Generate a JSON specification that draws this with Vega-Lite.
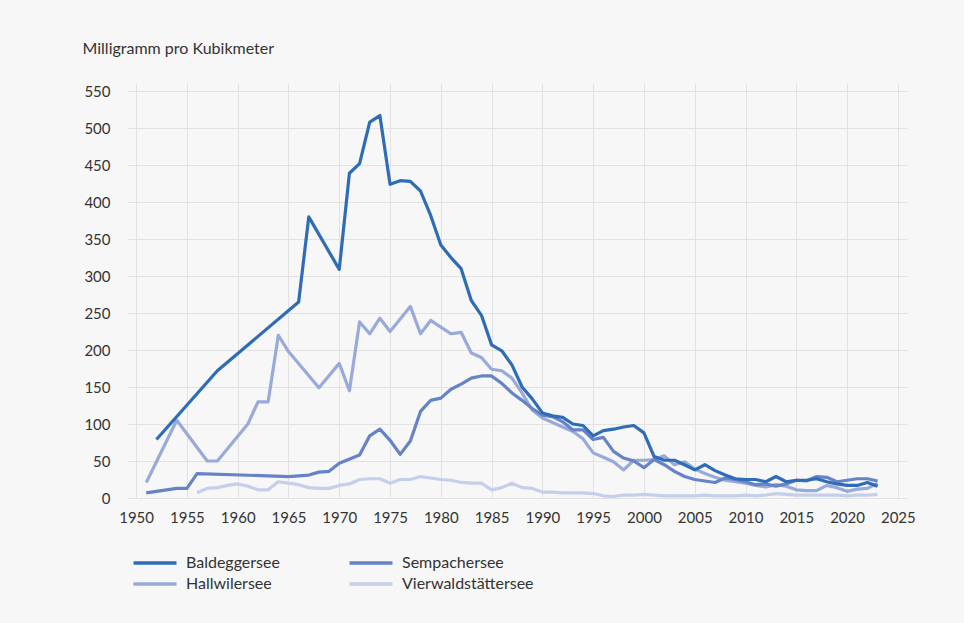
{
  "$schema": "https://vega.github.io/schema/vega-lite/v6.json",
  "width": 779,
  "height": 415,
  "autosize": {"type": "none"},
  "padding": {"left": 128, "top": 83, "right": 57, "bottom": 125},
  "background": "#f7f7f7",
  "config": {
    "view": {"stroke": null},
    "font": "Lato",
    "axis": {"gridColor": "#e2e2e2", "gridWidth": 1, "labelColor": "#333333", "labelFontSize": 15, "domain": false, "ticks": false}
  },
  "data": {"values": [
    {"lake": "Vierwaldstättersee", "year": 1956, "v": 7},
    {"lake": "Vierwaldstättersee", "year": 1957, "v": 13},
    {"lake": "Vierwaldstättersee", "year": 1958, "v": 14},
    {"lake": "Vierwaldstättersee", "year": 1959, "v": 17},
    {"lake": "Vierwaldstättersee", "year": 1960, "v": 19},
    {"lake": "Vierwaldstättersee", "year": 1961, "v": 16},
    {"lake": "Vierwaldstättersee", "year": 1962, "v": 11},
    {"lake": "Vierwaldstättersee", "year": 1963, "v": 11},
    {"lake": "Vierwaldstättersee", "year": 1964, "v": 22},
    {"lake": "Vierwaldstättersee", "year": 1965, "v": 20},
    {"lake": "Vierwaldstättersee", "year": 1966, "v": 18},
    {"lake": "Vierwaldstättersee", "year": 1967, "v": 14},
    {"lake": "Vierwaldstättersee", "year": 1968, "v": 13},
    {"lake": "Vierwaldstättersee", "year": 1969, "v": 13},
    {"lake": "Vierwaldstättersee", "year": 1970, "v": 17},
    {"lake": "Vierwaldstättersee", "year": 1971, "v": 19},
    {"lake": "Vierwaldstättersee", "year": 1972, "v": 25},
    {"lake": "Vierwaldstättersee", "year": 1973, "v": 26},
    {"lake": "Vierwaldstättersee", "year": 1974, "v": 26},
    {"lake": "Vierwaldstättersee", "year": 1975, "v": 20},
    {"lake": "Vierwaldstättersee", "year": 1976, "v": 25},
    {"lake": "Vierwaldstättersee", "year": 1977, "v": 25},
    {"lake": "Vierwaldstättersee", "year": 1978, "v": 29},
    {"lake": "Vierwaldstättersee", "year": 1979, "v": 27},
    {"lake": "Vierwaldstättersee", "year": 1980, "v": 25},
    {"lake": "Vierwaldstättersee", "year": 1981, "v": 24},
    {"lake": "Vierwaldstättersee", "year": 1982, "v": 21},
    {"lake": "Vierwaldstättersee", "year": 1983, "v": 20},
    {"lake": "Vierwaldstättersee", "year": 1984, "v": 20},
    {"lake": "Vierwaldstättersee", "year": 1985, "v": 11},
    {"lake": "Vierwaldstättersee", "year": 1986, "v": 14},
    {"lake": "Vierwaldstättersee", "year": 1987, "v": 20},
    {"lake": "Vierwaldstättersee", "year": 1988, "v": 14},
    {"lake": "Vierwaldstättersee", "year": 1989, "v": 13},
    {"lake": "Vierwaldstättersee", "year": 1990, "v": 8},
    {"lake": "Vierwaldstättersee", "year": 1991, "v": 8},
    {"lake": "Vierwaldstättersee", "year": 1992, "v": 7},
    {"lake": "Vierwaldstättersee", "year": 1993, "v": 7},
    {"lake": "Vierwaldstättersee", "year": 1994, "v": 7},
    {"lake": "Vierwaldstättersee", "year": 1995, "v": 6},
    {"lake": "Vierwaldstättersee", "year": 1996, "v": 3},
    {"lake": "Vierwaldstättersee", "year": 1997, "v": 2},
    {"lake": "Vierwaldstättersee", "year": 1998, "v": 4},
    {"lake": "Vierwaldstättersee", "year": 1999, "v": 4},
    {"lake": "Vierwaldstättersee", "year": 2000, "v": 5},
    {"lake": "Vierwaldstättersee", "year": 2001, "v": 4},
    {"lake": "Vierwaldstättersee", "year": 2002, "v": 3},
    {"lake": "Vierwaldstättersee", "year": 2003, "v": 3},
    {"lake": "Vierwaldstättersee", "year": 2004, "v": 3},
    {"lake": "Vierwaldstättersee", "year": 2005, "v": 3},
    {"lake": "Vierwaldstättersee", "year": 2006, "v": 4},
    {"lake": "Vierwaldstättersee", "year": 2007, "v": 3},
    {"lake": "Vierwaldstättersee", "year": 2008, "v": 3},
    {"lake": "Vierwaldstättersee", "year": 2009, "v": 3},
    {"lake": "Vierwaldstättersee", "year": 2010, "v": 4},
    {"lake": "Vierwaldstättersee", "year": 2011, "v": 3},
    {"lake": "Vierwaldstättersee", "year": 2012, "v": 4},
    {"lake": "Vierwaldstättersee", "year": 2013, "v": 6},
    {"lake": "Vierwaldstättersee", "year": 2014, "v": 5},
    {"lake": "Vierwaldstättersee", "year": 2015, "v": 4},
    {"lake": "Vierwaldstättersee", "year": 2016, "v": 4},
    {"lake": "Vierwaldstättersee", "year": 2017, "v": 4},
    {"lake": "Vierwaldstättersee", "year": 2018, "v": 4},
    {"lake": "Vierwaldstättersee", "year": 2019, "v": 4},
    {"lake": "Vierwaldstättersee", "year": 2020, "v": 3},
    {"lake": "Vierwaldstättersee", "year": 2021, "v": 4},
    {"lake": "Vierwaldstättersee", "year": 2022, "v": 4},
    {"lake": "Vierwaldstättersee", "year": 2023, "v": 5},
    {"lake": "Hallwilersee", "year": 1951, "v": 21},
    {"lake": "Hallwilersee", "year": 1954, "v": 105},
    {"lake": "Hallwilersee", "year": 1957, "v": 50},
    {"lake": "Hallwilersee", "year": 1958, "v": 50},
    {"lake": "Hallwilersee", "year": 1961, "v": 100},
    {"lake": "Hallwilersee", "year": 1962, "v": 130},
    {"lake": "Hallwilersee", "year": 1963, "v": 130},
    {"lake": "Hallwilersee", "year": 1964, "v": 220},
    {"lake": "Hallwilersee", "year": 1965, "v": 198},
    {"lake": "Hallwilersee", "year": 1968, "v": 149},
    {"lake": "Hallwilersee", "year": 1970, "v": 182},
    {"lake": "Hallwilersee", "year": 1971, "v": 145},
    {"lake": "Hallwilersee", "year": 1972, "v": 238},
    {"lake": "Hallwilersee", "year": 1973, "v": 222},
    {"lake": "Hallwilersee", "year": 1974, "v": 243},
    {"lake": "Hallwilersee", "year": 1975, "v": 225},
    {"lake": "Hallwilersee", "year": 1977, "v": 259},
    {"lake": "Hallwilersee", "year": 1978, "v": 222},
    {"lake": "Hallwilersee", "year": 1979, "v": 240},
    {"lake": "Hallwilersee", "year": 1980, "v": 231},
    {"lake": "Hallwilersee", "year": 1981, "v": 222},
    {"lake": "Hallwilersee", "year": 1982, "v": 224},
    {"lake": "Hallwilersee", "year": 1983, "v": 196},
    {"lake": "Hallwilersee", "year": 1984, "v": 190},
    {"lake": "Hallwilersee", "year": 1985, "v": 174},
    {"lake": "Hallwilersee", "year": 1986, "v": 172},
    {"lake": "Hallwilersee", "year": 1987, "v": 162},
    {"lake": "Hallwilersee", "year": 1988, "v": 142},
    {"lake": "Hallwilersee", "year": 1989, "v": 119},
    {"lake": "Hallwilersee", "year": 1990, "v": 108},
    {"lake": "Hallwilersee", "year": 1991, "v": 102},
    {"lake": "Hallwilersee", "year": 1992, "v": 96},
    {"lake": "Hallwilersee", "year": 1993, "v": 90},
    {"lake": "Hallwilersee", "year": 1994, "v": 80},
    {"lake": "Hallwilersee", "year": 1995, "v": 61},
    {"lake": "Hallwilersee", "year": 1996, "v": 55},
    {"lake": "Hallwilersee", "year": 1997, "v": 49},
    {"lake": "Hallwilersee", "year": 1998, "v": 38},
    {"lake": "Hallwilersee", "year": 1999, "v": 51},
    {"lake": "Hallwilersee", "year": 2000, "v": 51},
    {"lake": "Hallwilersee", "year": 2001, "v": 52},
    {"lake": "Hallwilersee", "year": 2002, "v": 57},
    {"lake": "Hallwilersee", "year": 2003, "v": 45},
    {"lake": "Hallwilersee", "year": 2004, "v": 49},
    {"lake": "Hallwilersee", "year": 2005, "v": 39},
    {"lake": "Hallwilersee", "year": 2006, "v": 33},
    {"lake": "Hallwilersee", "year": 2007, "v": 28},
    {"lake": "Hallwilersee", "year": 2008, "v": 24},
    {"lake": "Hallwilersee", "year": 2009, "v": 22},
    {"lake": "Hallwilersee", "year": 2010, "v": 20},
    {"lake": "Hallwilersee", "year": 2011, "v": 17},
    {"lake": "Hallwilersee", "year": 2012, "v": 15},
    {"lake": "Hallwilersee", "year": 2013, "v": 18},
    {"lake": "Hallwilersee", "year": 2014, "v": 16},
    {"lake": "Hallwilersee", "year": 2015, "v": 11},
    {"lake": "Hallwilersee", "year": 2016, "v": 10},
    {"lake": "Hallwilersee", "year": 2017, "v": 10},
    {"lake": "Hallwilersee", "year": 2018, "v": 17},
    {"lake": "Hallwilersee", "year": 2019, "v": 14},
    {"lake": "Hallwilersee", "year": 2020, "v": 9},
    {"lake": "Hallwilersee", "year": 2021, "v": 12},
    {"lake": "Hallwilersee", "year": 2022, "v": 13},
    {"lake": "Hallwilersee", "year": 2023, "v": 20},
    {"lake": "Sempachersee", "year": 1951, "v": 7},
    {"lake": "Sempachersee", "year": 1954, "v": 13},
    {"lake": "Sempachersee", "year": 1955, "v": 13},
    {"lake": "Sempachersee", "year": 1956, "v": 33},
    {"lake": "Sempachersee", "year": 1965, "v": 29},
    {"lake": "Sempachersee", "year": 1967, "v": 31},
    {"lake": "Sempachersee", "year": 1968, "v": 35},
    {"lake": "Sempachersee", "year": 1969, "v": 36},
    {"lake": "Sempachersee", "year": 1970, "v": 47},
    {"lake": "Sempachersee", "year": 1972, "v": 58},
    {"lake": "Sempachersee", "year": 1973, "v": 84},
    {"lake": "Sempachersee", "year": 1974, "v": 93},
    {"lake": "Sempachersee", "year": 1975, "v": 78},
    {"lake": "Sempachersee", "year": 1976, "v": 59},
    {"lake": "Sempachersee", "year": 1977, "v": 77},
    {"lake": "Sempachersee", "year": 1978, "v": 117},
    {"lake": "Sempachersee", "year": 1979, "v": 132},
    {"lake": "Sempachersee", "year": 1980, "v": 135},
    {"lake": "Sempachersee", "year": 1981, "v": 147},
    {"lake": "Sempachersee", "year": 1982, "v": 154},
    {"lake": "Sempachersee", "year": 1983, "v": 162},
    {"lake": "Sempachersee", "year": 1984, "v": 165},
    {"lake": "Sempachersee", "year": 1985, "v": 165},
    {"lake": "Sempachersee", "year": 1986, "v": 155},
    {"lake": "Sempachersee", "year": 1987, "v": 142},
    {"lake": "Sempachersee", "year": 1988, "v": 132},
    {"lake": "Sempachersee", "year": 1989, "v": 121},
    {"lake": "Sempachersee", "year": 1990, "v": 112},
    {"lake": "Sempachersee", "year": 1991, "v": 110},
    {"lake": "Sempachersee", "year": 1992, "v": 103},
    {"lake": "Sempachersee", "year": 1993, "v": 92},
    {"lake": "Sempachersee", "year": 1994, "v": 92},
    {"lake": "Sempachersee", "year": 1995, "v": 79},
    {"lake": "Sempachersee", "year": 1996, "v": 82},
    {"lake": "Sempachersee", "year": 1997, "v": 63},
    {"lake": "Sempachersee", "year": 1998, "v": 54},
    {"lake": "Sempachersee", "year": 1999, "v": 50},
    {"lake": "Sempachersee", "year": 2000, "v": 41},
    {"lake": "Sempachersee", "year": 2001, "v": 52},
    {"lake": "Sempachersee", "year": 2002, "v": 45},
    {"lake": "Sempachersee", "year": 2003, "v": 36},
    {"lake": "Sempachersee", "year": 2004, "v": 29},
    {"lake": "Sempachersee", "year": 2005, "v": 25},
    {"lake": "Sempachersee", "year": 2006, "v": 23},
    {"lake": "Sempachersee", "year": 2007, "v": 21},
    {"lake": "Sempachersee", "year": 2008, "v": 27},
    {"lake": "Sempachersee", "year": 2009, "v": 25},
    {"lake": "Sempachersee", "year": 2010, "v": 22},
    {"lake": "Sempachersee", "year": 2011, "v": 18},
    {"lake": "Sempachersee", "year": 2012, "v": 19},
    {"lake": "Sempachersee", "year": 2013, "v": 16},
    {"lake": "Sempachersee", "year": 2014, "v": 19},
    {"lake": "Sempachersee", "year": 2015, "v": 24},
    {"lake": "Sempachersee", "year": 2016, "v": 23},
    {"lake": "Sempachersee", "year": 2017, "v": 29},
    {"lake": "Sempachersee", "year": 2018, "v": 28},
    {"lake": "Sempachersee", "year": 2019, "v": 22},
    {"lake": "Sempachersee", "year": 2020, "v": 24},
    {"lake": "Sempachersee", "year": 2021, "v": 26},
    {"lake": "Sempachersee", "year": 2022, "v": 26},
    {"lake": "Sempachersee", "year": 2023, "v": 23},
    {"lake": "Baldeggersee", "year": 1952, "v": 79},
    {"lake": "Baldeggersee", "year": 1958, "v": 172},
    {"lake": "Baldeggersee", "year": 1966, "v": 265},
    {"lake": "Baldeggersee", "year": 1967, "v": 380},
    {"lake": "Baldeggersee", "year": 1970, "v": 309},
    {"lake": "Baldeggersee", "year": 1971, "v": 439},
    {"lake": "Baldeggersee", "year": 1972, "v": 452},
    {"lake": "Baldeggersee", "year": 1973, "v": 508},
    {"lake": "Baldeggersee", "year": 1974, "v": 517},
    {"lake": "Baldeggersee", "year": 1975, "v": 424},
    {"lake": "Baldeggersee", "year": 1976, "v": 429},
    {"lake": "Baldeggersee", "year": 1977, "v": 428},
    {"lake": "Baldeggersee", "year": 1978, "v": 415},
    {"lake": "Baldeggersee", "year": 1979, "v": 382},
    {"lake": "Baldeggersee", "year": 1980, "v": 342},
    {"lake": "Baldeggersee", "year": 1981, "v": 325},
    {"lake": "Baldeggersee", "year": 1982, "v": 310},
    {"lake": "Baldeggersee", "year": 1983, "v": 267},
    {"lake": "Baldeggersee", "year": 1984, "v": 247},
    {"lake": "Baldeggersee", "year": 1985, "v": 207},
    {"lake": "Baldeggersee", "year": 1986, "v": 199},
    {"lake": "Baldeggersee", "year": 1987, "v": 180},
    {"lake": "Baldeggersee", "year": 1988, "v": 150},
    {"lake": "Baldeggersee", "year": 1989, "v": 134},
    {"lake": "Baldeggersee", "year": 1990, "v": 115},
    {"lake": "Baldeggersee", "year": 1991, "v": 111},
    {"lake": "Baldeggersee", "year": 1992, "v": 109},
    {"lake": "Baldeggersee", "year": 1993, "v": 100},
    {"lake": "Baldeggersee", "year": 1994, "v": 98},
    {"lake": "Baldeggersee", "year": 1995, "v": 84},
    {"lake": "Baldeggersee", "year": 1996, "v": 91},
    {"lake": "Baldeggersee", "year": 1997, "v": 93},
    {"lake": "Baldeggersee", "year": 1998, "v": 96},
    {"lake": "Baldeggersee", "year": 1999, "v": 98},
    {"lake": "Baldeggersee", "year": 2000, "v": 88},
    {"lake": "Baldeggersee", "year": 2001, "v": 56},
    {"lake": "Baldeggersee", "year": 2002, "v": 51},
    {"lake": "Baldeggersee", "year": 2003, "v": 51},
    {"lake": "Baldeggersee", "year": 2004, "v": 45},
    {"lake": "Baldeggersee", "year": 2005, "v": 38},
    {"lake": "Baldeggersee", "year": 2006, "v": 45},
    {"lake": "Baldeggersee", "year": 2007, "v": 37},
    {"lake": "Baldeggersee", "year": 2008, "v": 31},
    {"lake": "Baldeggersee", "year": 2009, "v": 26},
    {"lake": "Baldeggersee", "year": 2010, "v": 25},
    {"lake": "Baldeggersee", "year": 2011, "v": 25},
    {"lake": "Baldeggersee", "year": 2012, "v": 22},
    {"lake": "Baldeggersee", "year": 2013, "v": 29},
    {"lake": "Baldeggersee", "year": 2014, "v": 22},
    {"lake": "Baldeggersee", "year": 2015, "v": 24},
    {"lake": "Baldeggersee", "year": 2016, "v": 24},
    {"lake": "Baldeggersee", "year": 2017, "v": 26},
    {"lake": "Baldeggersee", "year": 2018, "v": 22},
    {"lake": "Baldeggersee", "year": 2019, "v": 19},
    {"lake": "Baldeggersee", "year": 2020, "v": 17},
    {"lake": "Baldeggersee", "year": 2021, "v": 17},
    {"lake": "Baldeggersee", "year": 2022, "v": 21},
    {"lake": "Baldeggersee", "year": 2023, "v": 16}
  ]},
  "mark": {"type": "line", "strokeWidth": 3.2, "strokeJoin": "round"},
  "encoding": {
    "x": {
      "field": "year", "type": "quantitative",
      "scale": {"domain": [1949.2, 2025.9], "nice": false, "zero": false},
      "axis": {"values": [1950, 1955, 1960, 1965, 1970, 1975, 1980, 1985, 1990, 1995, 2000, 2005, 2010, 2015, 2020, 2025], "format": "d", "title": null, "labelPadding": 12, "labelFlush": false}
    },
    "y": {
      "field": "v", "type": "quantitative",
      "scale": {"domain": [0, 561], "nice": false},
      "axis": {
        "values": [0, 50, 100, 150, 200, 250, 300, 350, 400, 450, 500, 550],
        "labelPadding": 18,
        "title": "Milligramm pro Kubikmeter", "titleAngle": 0, "titleAlign": "left", "titleBaseline": "alphabetic",
        "titleX": -46, "titleY": -30, "titleFontWeight": "normal", "titleFontSize": 16, "titleColor": "#333333"
      }
    },
    "color": {
      "field": "lake", "type": "nominal",
      "scale": {
        "domain": ["Baldeggersee", "Sempachersee", "Hallwilersee", "Vierwaldstättersee"],
        "range": ["#2f6cb8", "#6683c8", "#97aad9", "#c5cfec"]
      },
      "legend": {
        "orient": "none", "legendX": 18, "legendY": 471, "columns": 2, "direction": "horizontal",
        "title": null, "padding": 0,
        "symbolType": "M-3,0H3", "symbolSize": 205, "symbolStrokeWidth": 3.5,
        "labelFontSize": 16, "labelColor": "#333333", "labelOffset": 22,
        "columnPadding": 62, "rowPadding": 4
      }
    }
  }
}
